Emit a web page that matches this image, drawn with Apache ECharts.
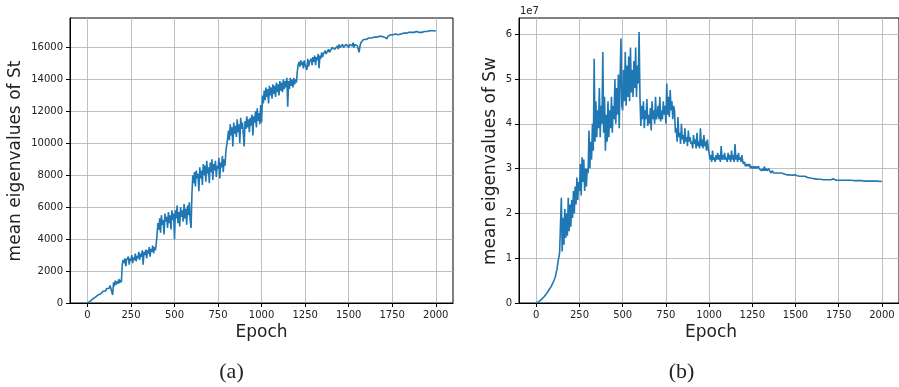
<!DOCTYPE html>
<html>
<head>
<meta charset="utf-8">
<script src="https://cdn.jsdelivr.net/npm/echarts@6/dist/echarts.min.js"></script>
<style>
  html, body { margin: 0; padding: 0; background: #fff; }
  #chart { width: 899px; height: 387px; }
</style>
</head>
<body>
<div id="chart"></div>
<script>
// mean eigenvalues of St, sampled every 5 epochs (last point = epoch 1999)
const stValues = [
  0, 25, 75, 105, 170, 190, 250, 270, 330, 350, 410, 430, 500, 470, 580, 560, 650, 620, 740, 700,
  800, 760, 900, 850, 1000, 920, 1100, 1050, 1200, 500, 1300, 1050, 1400, 1150, 1350, 1200, 1500, 1250, 1450, 1300,
  2400, 2700, 2500, 2800, 2300, 2700, 2600, 2900, 2400, 2800, 2650, 3000, 2500, 2850, 2700, 3100, 2600, 2950, 2800, 3200,
  2700, 3100, 2900, 3300, 2400, 3200, 3000, 3350, 2800, 3300, 3100, 3500, 2900, 3400, 3200, 3600, 3100, 3500, 3300, 3700,
  4300, 5000, 4600, 5300, 4400, 5500, 4900, 5200, 4300, 5600, 5100, 5400, 4700, 5700, 5000, 5500, 4600, 5800, 5200, 5600,
  4000, 5800, 5300, 6100, 5000, 5700, 4800, 6000, 5400, 5800, 5100, 6200, 5300, 5900, 4900, 6100, 5500, 6300, 5200, 4700,
  6800, 8000, 7500, 8200, 7300, 8300, 7800, 8100, 7000, 8500, 7800, 8300, 7400, 8700, 8000, 8600, 7600, 8900, 8100, 8500,
  7500, 8800, 8200, 9000, 7700, 8700, 8300, 8900, 7900, 8600, 8400, 9100, 7800, 8800, 8500, 9200, 8200, 9000, 8600, 9500,
  9600, 10300, 10800, 10200, 11200, 10500, 11000, 9800, 11300, 10600, 11100, 10400, 11500, 10700, 11200, 10000, 11600, 10900, 11300, 10600,
  9800, 11400, 10900, 11700, 11000, 11500, 10700, 11600, 11100, 11800, 10500, 11700, 11300, 12000, 11000, 12200, 11400, 11900, 11200, 12400,
  11300, 13000, 12500, 13300, 12700, 13500, 12900, 13400, 12500, 13600, 13000, 13500, 12800, 13700, 13100, 13600, 12900, 13800, 13200, 13700,
  13000, 13900, 13300, 13800, 13200, 14000, 13400, 13900, 13500, 14100, 12300, 13900, 13400, 14100, 13600, 14000, 13500, 14100, 13700, 14000,
  13800, 14500, 14900, 15100, 14800, 15200, 14900, 15100, 14700, 15200, 14900, 15000, 14600, 15300, 14800, 15100, 15000, 15300, 14900, 15400,
  15100, 15500, 14900, 15400, 15200, 15600, 14700, 15500, 15300, 15700, 15400, 15600, 15500, 15800, 15600, 15700, 15600, 15900, 15700, 15800,
  15800, 16000, 15900, 16100, 15900, 16000, 15800, 16100, 15900, 16200, 16000, 16100, 15900, 16200, 16000, 16100, 16000, 16200, 16100, 16200,
  16000, 16200, 16100, 16200, 16100, 16300, 16000, 16200, 16100, 16300, 16100, 16200, 15700, 16100, 16300, 16400, 16400, 16500, 16500, 16500,
  16500, 16550, 16500, 16600, 16550, 16600, 16600, 16650, 16600, 16650, 16650, 16600, 16650, 16700, 16650, 16700, 16650, 16700, 16700, 16650,
  16700, 16650, 16700, 16750, 16550, 16700, 16750, 16700, 16800, 16750, 16700, 16800, 16750, 16800, 16850, 16800, 16850, 16800, 16850, 16900,
  16850, 16900, 16850, 16900, 16950, 16900, 16900, 16950, 16900, 16950, 16950, 16900, 16950, 17000, 16950, 16950, 17000, 16950, 17000, 16950,
  17000, 16950, 17000, 17000, 16950, 17000, 17050, 17000, 17000, 17050, 17000, 17050, 17000, 17050, 17050, 17000, 17050, 17050, 17050, 17050,
  17000
];

// mean eigenvalues of Sw, in units of 1e7, same sampling
const swValues = [
  0, 0.01, 0.02, 0.03, 0.05, 0.06, 0.08, 0.1, 0.11, 0.14, 0.16, 0.19, 0.2, 0.24, 0.26, 0.3, 0.31, 0.36, 0.38, 0.44,
  0.46, 0.53, 0.58, 0.68, 0.75, 0.9, 0.88, 1.12, 1.1, 2.35, 1.15, 1.9, 1.3, 2.1, 1.45, 2.0, 1.5, 2.35, 1.6, 2.2,
  1.7, 2.3, 1.9, 2.5, 2.0, 2.6, 2.2, 2.8, 2.3, 2.7, 2.5, 3.1, 2.4, 3.25, 2.7, 3.2, 2.5, 3.0, 2.6, 3.0,
  2.9, 3.85, 3.0, 3.6, 3.2, 4.0, 3.4, 5.45, 3.6, 4.5, 3.7, 4.3, 3.9, 4.8, 3.7, 4.4, 4.0, 5.6, 3.8, 4.6,
  3.4, 4.2, 3.6, 4.5, 3.7, 4.3, 3.9, 4.6, 3.8, 4.4, 4.1, 5.0, 4.0, 4.8, 4.2, 5.1, 3.9, 5.0, 5.9, 4.4,
  4.3, 5.2, 4.5, 5.6, 4.4, 5.3, 4.6, 5.5, 4.5, 5.7, 4.7, 5.2, 4.6, 5.4, 4.8, 5.7, 4.6, 5.3, 4.9, 6.05,
  4.6, 3.95, 4.4, 4.1, 4.5, 3.9, 4.3, 4.1, 4.55, 3.95, 4.2, 4.0, 4.35, 3.85, 4.5, 4.1, 4.3, 4.0, 4.6, 4.1,
  4.2, 4.4, 4.1, 4.6, 4.05, 4.3, 4.1, 4.5, 4.2, 4.4, 4.0, 4.9, 4.2, 4.6, 4.15, 4.75, 4.3, 4.5, 4.1, 4.4,
  4.3, 3.8, 3.9, 3.6, 4.15, 3.7, 3.8, 3.55, 4.0, 3.65, 3.75, 3.55, 3.9, 3.6, 3.7, 3.5, 3.85, 3.6, 3.7, 3.55,
  3.6, 3.45, 3.75, 3.55, 3.65, 3.45, 3.8, 3.5, 3.6, 3.45, 3.9, 3.5, 3.65, 3.45, 3.75, 3.5, 3.6, 3.4, 3.65, 3.45,
  3.35, 3.2, 3.3, 3.15, 3.4, 3.2, 3.25, 3.15, 3.3, 3.2, 3.35, 3.2, 3.3, 3.15, 3.5, 3.2, 3.3, 3.2, 3.35, 3.2,
  3.25, 3.15, 3.35, 3.2, 3.3, 3.15, 3.4, 3.2, 3.3, 3.15, 3.55, 3.2, 3.3, 3.15, 3.35, 3.2, 3.25, 3.15, 3.3, 3.15,
  3.1, 3.15, 3.05, 3.1, 3.05, 3.1, 3.05, 3.1, 3.0, 3.05, 3.05, 3.0, 3.05, 3.0, 3.05, 3.0, 3.0, 3.05, 3.0, 3.0,
  3.0, 2.95, 3.0, 2.95, 3.05, 2.95, 3.0, 2.95, 2.95, 3.0, 2.95, 2.95, 2.9, 2.95, 2.95, 2.9, 2.92, 2.9, 2.9, 2.9,
  2.92, 2.9, 2.9, 2.88, 2.9, 2.88, 2.9, 2.88, 2.87, 2.88, 2.86, 2.88, 2.87, 2.86, 2.86, 2.87, 2.85, 2.86, 2.85, 2.86,
  2.85, 2.86, 2.84, 2.86, 2.85, 2.83, 2.85, 2.84, 2.83, 2.84, 2.82, 2.83, 2.82, 2.81, 2.8, 2.8, 2.79, 2.79, 2.78, 2.78,
  2.78, 2.77, 2.78, 2.77, 2.77, 2.77, 2.76, 2.77, 2.76, 2.76, 2.76, 2.76, 2.75, 2.76, 2.75, 2.75, 2.76, 2.75, 2.75, 2.75,
  2.75, 2.75, 2.76, 2.75, 2.77, 2.75, 2.75, 2.74, 2.76, 2.75, 2.74, 2.75, 2.74, 2.74, 2.75, 2.74, 2.74, 2.74, 2.73, 2.74,
  2.74, 2.73, 2.74, 2.73, 2.73, 2.74, 2.73, 2.73, 2.73, 2.73, 2.72, 2.73, 2.73, 2.72, 2.73, 2.72, 2.72, 2.73, 2.72, 2.72,
  2.72, 2.72, 2.72, 2.72, 2.71, 2.72, 2.72, 2.72, 2.71, 2.72, 2.72, 2.71, 2.72, 2.71, 2.71, 2.72, 2.71, 2.72, 2.71, 2.71,
  2.72
];

const epochs = stValues.map((v, i) => Math.min(i * 5, 1999));
const xTicks = [0, 250, 500, 750, 1000, 1250, 1500, 1750, 2000];

const blue = '#1f77b4';
const font = 'DejaVu Sans';

const chart = echarts.init(document.getElementById('chart'), null, { renderer: 'canvas' });

function xAxisFor(gridIndex) {
  return {
    type: 'value',
    gridIndex: gridIndex,
    min: -100,
    max: 2099,
    axisLine: { show: true, onZero: false, lineStyle: { color: '#000', width: 1 } },
    axisTick: { show: true, length: 4, customValues: xTicks, lineStyle: { color: '#000' } },
    axisLabel: { customValues: xTicks, margin: 7, color: '#222', fontFamily: font, fontSize: 10, formatter: v => String(v) },
    splitLine: { show: true, lineStyle: { color: '#b0b0b0', width: 0.8 } }
  };
}

function yAxisFor(gridIndex, max, interval) {
  return {
    type: 'value', gridIndex: gridIndex, min: 0, max: max, interval: interval,
    axisLine: { show: true, onZero: false, lineStyle: { color: '#000' } },
    axisTick: { show: true, length: 4, lineStyle: { color: '#000' } },
    axisLabel: { margin: 7, color: '#222', fontFamily: font, fontSize: 10, showMaxLabel: false, formatter: v => String(v) },
    splitLine: { show: true, showMaxLine: false, lineStyle: { color: '#b0b0b0', width: 0.8 } }
  };
}

const option = {
  animation: false,
  backgroundColor: '#fff',
  grid: [
    { left: 70, top: 18, width: 383, height: 285, show: true, borderColor: '#000', borderWidth: 1, backgroundColor: 'transparent' },
    { left: 519, top: 18, width: 383, height: 285, show: true, borderColor: '#000', borderWidth: 1, backgroundColor: 'transparent' }
  ],
  xAxis: [xAxisFor(0), xAxisFor(1)],
  yAxis: [yAxisFor(0, 17850, 2000), yAxisFor(1, 6.36, 1)],
  series: [
    {
      type: 'line', xAxisIndex: 0, yAxisIndex: 0,
      data: epochs.map((e, i) => [e, stValues[i]]),
      showSymbol: false, sampling: null, clip: true,
      lineStyle: { color: blue, width: 1.6 }
    },
    {
      type: 'line', xAxisIndex: 1, yAxisIndex: 1,
      data: epochs.map((e, i) => [e, swValues[i]]),
      showSymbol: false, sampling: null, clip: true,
      lineStyle: { color: blue, width: 1.6 }
    }
  ],
  graphic: [
    { type: 'text', x: 16, y: 161, rotation: Math.PI / 2,
      style: { text: 'mean eigenvalues of St', font: '17px "DejaVu Sans"', fill: '#222', align: 'center', verticalAlign: 'middle' } },
    { type: 'text', x: 491, y: 161, rotation: Math.PI / 2,
      style: { text: 'mean eigenvalues of Sw', font: '17px "DejaVu Sans"', fill: '#222', align: 'center', verticalAlign: 'middle' } },
    { type: 'text', x: 261.5, y: 333,
      style: { text: 'Epoch', font: '17px "DejaVu Sans"', fill: '#222', align: 'center', verticalAlign: 'middle' } },
    { type: 'text', x: 711, y: 333,
      style: { text: 'Epoch', font: '17px "DejaVu Sans"', fill: '#222', align: 'center', verticalAlign: 'middle' } },
    { type: 'text', x: 520, y: 11.5,
      style: { text: '1e7', font: '10px "DejaVu Sans"', fill: '#222', align: 'left', verticalAlign: 'middle' } },
    { type: 'text', x: 231.5, y: 372,
      style: { text: '(a)', font: '22px "Liberation Serif"', fill: '#222', align: 'center', verticalAlign: 'middle' } },
    { type: 'text', x: 681.5, y: 372,
      style: { text: '(b)', font: '22px "Liberation Serif"', fill: '#222', align: 'center', verticalAlign: 'middle' } }
  ]
};

chart.setOption(option);
</script>
</body>
</html>
